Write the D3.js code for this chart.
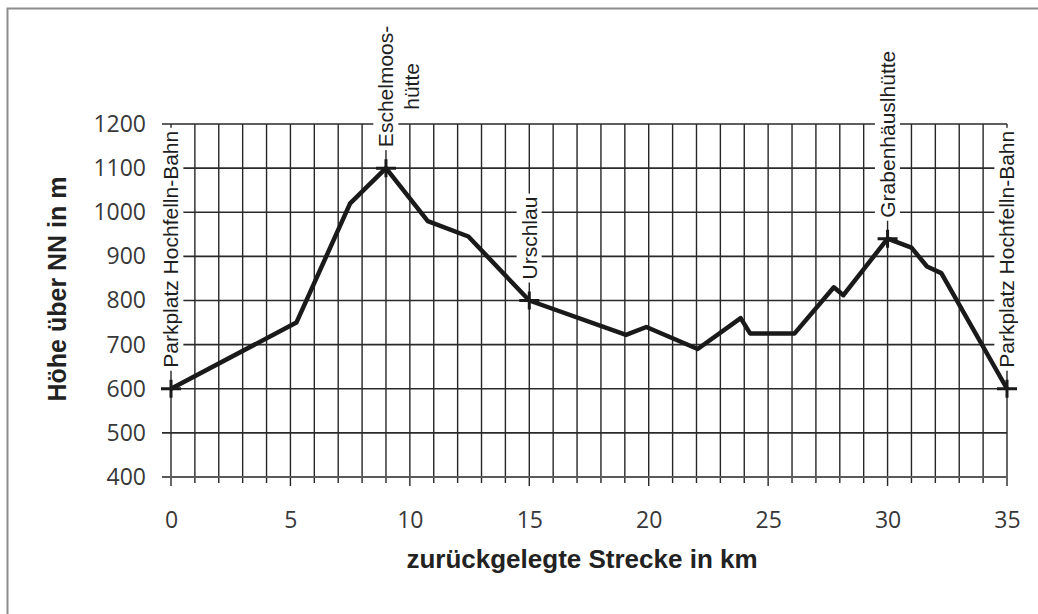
<!DOCTYPE html>
<html>
<head>
<meta charset="utf-8">
<script src="https://cdn.jsdelivr.net/npm/d3@7"></script>
<style>
  body { margin: 0; background: #fff; }
</style>
</head>
<body>
<svg width="1038" height="614"></svg>
<script>
// profile: distance (km) and altitude (m)
const distKm = [0, 5.25, 7.5, 9, 10.75, 12.45, 15, 19.05, 19.9, 22.05, 23.85, 24.25, 26.1, 27.75, 28.15, 30, 31, 31.65, 32.25, 35];
const altM   = [600, 750, 1020, 1100, 980, 945, 800, 722, 740, 690, 760, 725, 725, 830, 812, 940, 920, 877, 862, 600];

// named stops along the way
const stopKm    = [0, 9, 15, 30, 35];
const stopNames = ["Parkplatz Hochfelln-Bahn", "Eschelmoos-\nhütte", "Urschlau", "Grabenhäuslhütte", "Parkplatz Hochfelln-Bahn"];

const xTicks = [0, 5, 10, 15, 20, 25, 30, 35];
const yTicks = [400, 500, 600, 700, 800, 900, 1000, 1100, 1200];

const xTitle = "zurückgelegte Strecke in km";
const yTitle = "Höhe über NN in m";

const margin = {top: 124, right: 31, bottom: 137, left: 171},
      width = 1038 - margin.left - margin.right,
      height = 614 - margin.top - margin.bottom;

const svg = d3.select("svg");

// outer frame
svg.append("rect")
  .attr("x", 7.5).attr("y", 8.5)
  .attr("width", 1100).attr("height", 700)
  .attr("fill", "none")
  .attr("stroke", "#8c8c8c")
  .attr("stroke-width", 2);

const g = svg.append("g").attr("transform", `translate(${margin.left},${margin.top})`);

const x = d3.scaleLinear().domain([0, 35]).range([0, width]);
const y = d3.scaleLinear().domain([400, 1200]).range([height, 0]);

// vertical grid every km, with ticks below the axis
g.append("g")
  .selectAll("line")
  .data(d3.range(0, 36))
  .join("line")
    .attr("x1", d => x(d)).attr("x2", d => x(d))
    .attr("y1", y(1200))
    .attr("y2", d => y(400) + (d % 5 === 0 ? 9 : 6))
    .attr("stroke", "#262626")
    .attr("stroke-width", 1.4);

// horizontal grid
g.append("g")
  .selectAll("line")
  .data(yTicks)
  .join("line")
    .attr("x1", -9).attr("x2", x(35))
    .attr("y1", d => y(d)).attr("y2", d => y(d))
    .attr("stroke", d => d === 400 ? "#5a5a5a" : "#2a2a2a")
    .attr("stroke-width", d => d === 400 ? 2 : 1.6);

// axes labels
const xAxis = g.append("g")
  .attr("transform", `translate(0,${height})`)
  .call(d3.axisBottom(x).tickValues(xTicks).tickSize(0).tickPadding(35));
const yAxis = g.append("g")
  .call(d3.axisLeft(y).tickValues(yTicks).tickFormat(d3.format("d")).tickSize(0).tickPadding(25));
[xAxis, yAxis].forEach(a => {
  a.select(".domain").remove();
  a.selectAll("text")
    .attr("font-family", "'Open Sans', sans-serif")
    .attr("font-size", 23)
    .attr("fill", "#383838");
});

// axis titles
svg.append("text")
  .attr("x", 582).attr("y", 568)
  .attr("text-anchor", "middle")
  .attr("font-family", "'Liberation Sans', Arial, sans-serif")
  .attr("font-weight", "bold")
  .attr("font-size", 26)
  .attr("fill", "#222")
  .text(xTitle);

svg.append("text")
  .attr("transform", "translate(66,289) rotate(-90)")
  .attr("text-anchor", "middle")
  .attr("font-family", "'Liberation Sans', Arial, sans-serif")
  .attr("font-weight", "bold")
  .attr("font-size", 25)
  .attr("fill", "#222")
  .text(yTitle);

// stop labels (rotated, white box behind)
const labelLayer = g.append("g");
const gap = 21;
stopKm.forEach((km, i) => {
  const alt = altM[distKm.indexOf(km)];
  const lg = labelLayer.append("g")
    .attr("transform", `translate(${x(km)},${y(alt) - gap}) rotate(-90)`);
  const lines = stopNames[i].split("\n");
  const texts = lines.map((t, j) => lg.append("text")
    .attr("font-family", "'Liberation Sans', Arial, sans-serif")
    .attr("font-size", 21)
    .attr("fill", "#1e1e1e")
    .attr("dy", (0.35 + j * 1.24) + "em")
    .text(t));
  const L = texts[0].node().getComputedTextLength();
  if (lines.length > 1) {
    texts.forEach(t => t.attr("text-anchor", "middle").attr("x", L / 2));
  }
  texts.forEach(t => {
    const b = t.node().getBBox();
    lg.insert("rect", "text")
      .attr("x", b.x - 3).attr("y", b.y - 1)
      .attr("width", b.width + 6).attr("height", b.height + 2)
      .attr("fill", "#fff");
  });
});

// profile line
const pts = distKm.map((d, i) => [d, altM[i]]);
g.append("path")
  .datum(pts)
  .attr("fill", "none")
  .attr("stroke", "#1a1a1a")
  .attr("stroke-width", 4.5)
  .attr("stroke-linejoin", "round")
  .attr("d", d3.line().x(d => x(d[0])).y(d => y(d[1])));

// cross markers at stops
g.append("g")
  .selectAll("path")
  .data(stopKm)
  .join("path")
    .attr("transform", d => `translate(${x(d)},${y(altM[distKm.indexOf(d)])})`)
    .attr("d", "M-10,0H10M0,-9V9")
    .attr("stroke", "#1a1a1a")
    .attr("stroke-width", 3);
</script>
</body>
</html>
